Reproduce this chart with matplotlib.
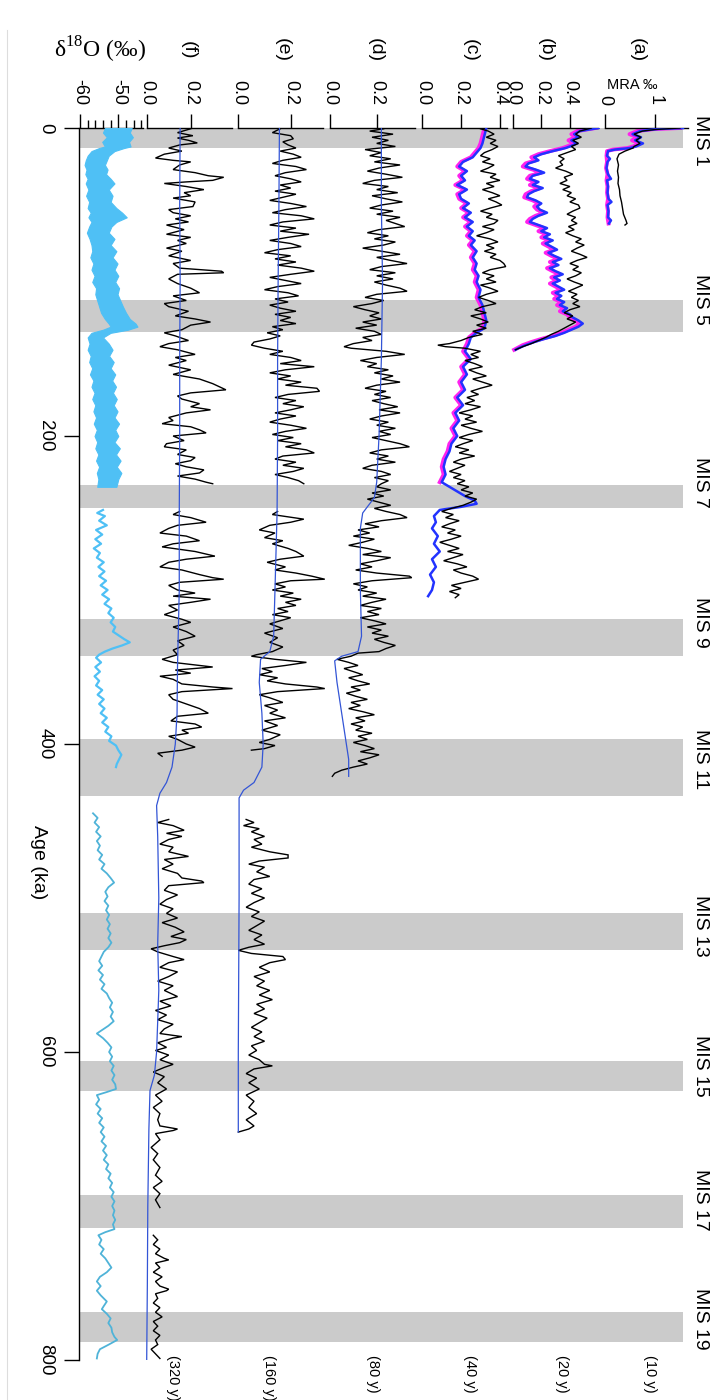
import numpy as np
import matplotlib
matplotlib.use("Agg")
import matplotlib.pyplot as plt
from matplotlib.lines import Line2D

plt.rcParams['font.family'] = ['Liberation Sans', 'DejaVu Sans']
plt.rcParams['mathtext.fontset'] = 'custom'
plt.rcParams['mathtext.rm'] = 'Liberation Serif'

W, H = 714, 1400

# ---------------- data (age in ka, value in panel units) ----------------
mis_names = ['MIS 1', 'MIS 5', 'MIS 7', 'MIS 9', 'MIS 11', 'MIS 13', 'MIS 15', 'MIS 17', 'MIS 19']
mis_start = [0, 112, 232, 319, 397, 510, 606, 693, 769]
mis_end = [13, 132.5, 247, 343, 434, 534, 625, 714, 788]
mis_label_age = [8, 111, 230, 321, 410, 518, 609, 696, 773]

age_ticks = [0, 200, 400, 600, 800]
res_labels = ['(320 y)', '(160 y)', '(80 y)', '(40 y)', '(20 y)', '(10 y)']

# (a) 10 y
a_blue = [(0, 1.56), (0.7, 1.04), (2, 0.70), (4, 0.55), (6, 0.72), (8, 0.60), (10, 0.76),
          (12, 0.62), (13, 0.50), (14, 0.20), (15, 0.06), (18, 0.04), (20, 0.10), (22, 0.05),
          (26, 0.03), (30, 0.06), (33, 0.12), (34, 0.04), (38, 0.06), (42, 0.05), (46, 0.07),
          (48, 0.13), (50, 0.05), (54, 0.07), (58, 0.06), (60, 0.12), (62, 0.08)]
a_magenta = [(0, 1.50), (0.7, 0.98), (2, 0.64), (4, 0.49), (6, 0.66), (8, 0.54), (10, 0.70),
             (12, 0.56), (13, 0.45), (14, 0.16), (15, 0.04), (18, 0.03), (22, 0.04), (26, 0.02),
             (30, 0.05), (34, 0.03), (38, 0.05), (42, 0.04), (46, 0.06), (50, 0.04), (54, 0.06),
             (58, 0.05), (62, 0.07)]
a_black = [(0, 1.50), (1, 1.0), (2, 0.75), (4, 0.58), (6, 0.72), (8, 0.62), (10, 0.70), (12, 0.58),
           (13, 0.56), (15, 0.40), (17, 0.28), (20, 0.24), (24, 0.27), (28, 0.25), (32, 0.27),
           (36, 0.26), (40, 0.29), (44, 0.30), (48, 0.33), (52, 0.35), (56, 0.37), (60, 0.42),
           (62, 0.44), (63, 0.40)]

# (b) 20 y
b_blue = [(0, 0.60), (2, 0.47), (4, 0.43), (6, 0.46), (8, 0.41), (10, 0.45), (12, 0.40), (13, 0.37),
          (15, 0.28), (17, 0.20), (19, 0.15), (21, 0.18), (23, 0.11), (25, 0.09), (27, 0.16),
          (29, 0.22), (31, 0.14), (33, 0.12), (35, 0.18), (37, 0.14), (39, 0.21), (41, 0.15),
          (43, 0.11), (45, 0.10), (47, 0.16), (49, 0.20), (51, 0.17), (53, 0.19), (55, 0.24),
          (57, 0.18), (59, 0.14), (61, 0.12), (63, 0.18), (65, 0.24), (67, 0.20), (69, 0.26),
          (71, 0.22), (73, 0.28), (75, 0.23), (77, 0.27), (79, 0.31), (81, 0.25), (83, 0.29),
          (85, 0.34), (87, 0.28), (89, 0.32), (91, 0.26), (93, 0.30), (95, 0.35), (97, 0.29),
          (99, 0.33), (101, 0.28), (103, 0.32), (105, 0.36), (107, 0.30), (109, 0.34), (111, 0.31),
          (113, 0.36), (115, 0.33), (117, 0.38), (119, 0.35), (121, 0.40), (123, 0.42), (125, 0.46),
          (127, 0.49), (129, 0.46), (131, 0.41), (133, 0.36), (135, 0.30), (137, 0.22), (139, 0.15),
          (141, 0.09), (143, 0.04), (144, 0.02)]
b_magenta = [(0, 0.58), (2, 0.45), (4, 0.41), (6, 0.44), (8, 0.39), (10, 0.43), (12, 0.38),
             (13, 0.35), (15, 0.26), (17, 0.18), (19, 0.13), (21, 0.16), (23, 0.09), (25, 0.07),
             (27, 0.14), (29, 0.20), (31, 0.12), (33, 0.10), (35, 0.16), (37, 0.12), (39, 0.19),
             (41, 0.13), (43, 0.09), (45, 0.08), (47, 0.14), (49, 0.18), (51, 0.15), (53, 0.17),
             (55, 0.22), (57, 0.16), (59, 0.12), (61, 0.10), (63, 0.16), (65, 0.22), (67, 0.18),
             (69, 0.24), (71, 0.20), (73, 0.26), (75, 0.21), (77, 0.25), (79, 0.29), (81, 0.23),
             (83, 0.27), (85, 0.32), (87, 0.26), (89, 0.30), (91, 0.24), (93, 0.28), (95, 0.33),
             (97, 0.27), (99, 0.31), (101, 0.26), (103, 0.30), (105, 0.34), (107, 0.28), (109, 0.32),
             (111, 0.29), (113, 0.34), (115, 0.31), (117, 0.36), (119, 0.33), (121, 0.38), (123, 0.40),
             (125, 0.44), (127, 0.47), (129, 0.44), (131, 0.39), (133, 0.34), (135, 0.28), (137, 0.20),
             (139, 0.13), (141, 0.07), (143, 0.03), (144, 0.01)]
b_black = [(0, 0.55), (2, 0.47), (4, 0.44), (6, 0.48), (8, 0.42), (10, 0.46), (12, 0.41), (14, 0.44),
           (16, 0.38), (18, 0.32), (20, 0.36), (22, 0.33), (24, 0.35), (26, 0.30), (28, 0.37),
           (30, 0.42), (32, 0.36), (34, 0.38), (36, 0.33), (38, 0.40), (40, 0.35), (42, 0.41),
           (44, 0.38), (46, 0.44), (48, 0.40), (50, 0.46), (52, 0.47), (54, 0.42), (56, 0.38),
           (58, 0.44), (60, 0.41), (62, 0.45), (64, 0.39), (66, 0.43), (68, 0.37), (70, 0.42),
           (72, 0.48), (74, 0.44), (76, 0.50), (78, 0.45), (80, 0.41), (82, 0.47), (84, 0.52),
           (86, 0.45), (88, 0.40), (90, 0.46), (92, 0.42), (94, 0.48), (96, 0.44), (98, 0.38),
           (100, 0.43), (102, 0.49), (104, 0.44), (106, 0.39), (108, 0.45), (110, 0.41), (112, 0.46),
           (114, 0.42), (116, 0.47), (118, 0.40), (120, 0.36), (122, 0.42), (124, 0.38), (126, 0.44),
           (128, 0.40), (130, 0.36), (132, 0.32), (134, 0.27), (136, 0.23), (138, 0.18), (140, 0.13),
           (142, 0.07), (144, 0.02)]

# (c) 40 y
c_blue = [(0, 0.33), (5, 0.32), (10, 0.31), (13, 0.30), (16, 0.28), (19, 0.26), (22, 0.21),
          (25, 0.19), (28, 0.23), (31, 0.20), (34, 0.22), (37, 0.18), (40, 0.23), (43, 0.19),
          (46, 0.20), (49, 0.24), (52, 0.21), (55, 0.25), (58, 0.22), (61, 0.26), (64, 0.23),
          (67, 0.26), (70, 0.24), (73, 0.27), (76, 0.25), (80, 0.28), (84, 0.26), (88, 0.28),
          (92, 0.27), (96, 0.29), (100, 0.28), (105, 0.30), (110, 0.29), (115, 0.31), (120, 0.32),
          (125, 0.33), (130, 0.32), (133, 0.28), (136, 0.25), (140, 0.24), (145, 0.22), (150, 0.25),
          (155, 0.21), (160, 0.23), (165, 0.20), (170, 0.22), (175, 0.18), (180, 0.21), (185, 0.17),
          (190, 0.19), (195, 0.16), (200, 0.18), (205, 0.15), (210, 0.14), (215, 0.12), (220, 0.11),
          (225, 0.12), (230, 0.10), (233, 0.14), (236, 0.18), (239, 0.22), (242, 0.27), (244, 0.28),
          (246, 0.20), (248, 0.09), (252, 0.06), (256, 0.07), (260, 0.05), (265, 0.08), (270, 0.06),
          (275, 0.09), (280, 0.05), (285, 0.07), (290, 0.04), (295, 0.06), (300, 0.05), (304, 0.03)]
c_magenta = [(0, 0.32), (5, 0.31), (10, 0.30), (13, 0.29), (16, 0.27), (19, 0.25), (22, 0.20),
             (25, 0.18), (28, 0.22), (31, 0.19), (34, 0.21), (37, 0.17), (40, 0.22), (43, 0.18),
             (46, 0.19), (49, 0.23), (52, 0.20), (55, 0.24), (58, 0.21), (61, 0.25), (64, 0.22),
             (67, 0.25), (70, 0.23), (73, 0.26), (76, 0.24), (80, 0.27), (84, 0.25), (88, 0.27),
             (92, 0.26), (96, 0.28), (100, 0.27), (105, 0.29), (110, 0.28), (115, 0.30), (120, 0.31),
             (125, 0.32), (130, 0.31), (133, 0.27), (136, 0.24), (140, 0.23), (145, 0.21), (150, 0.24),
             (155, 0.20), (160, 0.22), (165, 0.19), (170, 0.21), (175, 0.17), (180, 0.20), (185, 0.16),
             (190, 0.18), (195, 0.15), (200, 0.17), (205, 0.14), (210, 0.13), (215, 0.11), (220, 0.10),
             (225, 0.11), (230, 0.09)]
c_black = [(0.5, 0.30), (2, 0.34), (4, 0.37), (6, 0.33), (8, 0.38), (10, 0.35), (12, 0.39), (14, 0.36),
           (16, 0.32), (18, 0.30), (20, 0.35), (22, 0.31), (24, 0.37), (26, 0.34), (28, 0.30),
           (30, 0.38), (32, 0.35), (34, 0.40), (36, 0.33), (38, 0.37), (40, 0.31), (42, 0.36),
           (44, 0.40), (46, 0.34), (48, 0.38), (50, 0.41), (52, 0.35), (54, 0.30), (56, 0.36),
           (58, 0.33), (60, 0.39), (62, 0.37), (64, 0.31), (66, 0.37), (68, 0.33), (70, 0.28),
           (72, 0.35), (74, 0.39), (76, 0.33), (78, 0.37), (80, 0.32), (82, 0.38), (84, 0.35),
           (86, 0.40), (88, 0.42), (90, 0.43), (92, 0.35), (94, 0.31), (96, 0.37), (98, 0.33),
           (100, 0.38), (102, 0.30), (104, 0.35), (106, 0.39), (108, 0.33), (110, 0.29), (112, 0.34),
           (114, 0.38), (116, 0.31), (118, 0.27), (120, 0.33), (122, 0.25), (124, 0.30), (126, 0.34),
           (128, 0.28), (130, 0.33), (132, 0.26), (134, 0.31), (136, 0.24), (138, 0.20), (140, 0.14),
           (141, 0.08), (142, 0.12), (143, 0.22), (145, 0.30), (147, 0.25), (149, 0.29), (151, 0.22),
           (153, 0.27), (155, 0.31), (157, 0.24), (159, 0.28), (161, 0.33), (163, 0.26), (165, 0.31),
           (167, 0.36), (169, 0.30), (171, 0.25), (173, 0.29), (175, 0.23), (177, 0.27), (179, 0.22),
           (181, 0.30), (183, 0.25), (185, 0.19), (187, 0.26), (189, 0.22), (191, 0.28), (193, 0.20),
           (195, 0.25), (197, 0.31), (199, 0.24), (201, 0.19), (203, 0.26), (205, 0.21), (207, 0.17),
           (209, 0.24), (211, 0.19), (213, 0.27), (215, 0.20), (217, 0.16), (219, 0.22), (221, 0.18),
           (223, 0.14), (225, 0.20), (227, 0.16), (229, 0.22), (231, 0.18), (233, 0.24), (235, 0.20),
           (237, 0.26), (239, 0.22), (241, 0.28), (243, 0.25), (245, 0.21), (247, 0.15), (249, 0.10),
           (251, 0.16), (253, 0.12), (255, 0.19), (257, 0.14), (259, 0.10), (261, 0.17), (263, 0.13),
           (265, 0.20), (267, 0.15), (269, 0.09), (271, 0.14), (273, 0.19), (275, 0.13), (277, 0.21),
           (279, 0.16), (281, 0.11), (283, 0.18), (285, 0.23), (287, 0.16), (289, 0.20), (291, 0.26),
           (293, 0.29), (295, 0.22), (297, 0.15), (299, 0.20), (301, 0.14), (303, 0.19), (305, 0.17)]

# (d) 80 y
d_blue = [(0, 0.22), (50, 0.22), (100, 0.225), (150, 0.22), (200, 0.21), (230, 0.20), (240, 0.19),
          (250, 0.14), (260, 0.13), (300, 0.13), (330, 0.135), (340, 0.12), (343, 0.05), (346, 0.02),
          (360, 0.03), (380, 0.05), (400, 0.07), (410, 0.08), (421, 0.08)]
d_black = [(0.5, 0.23), (2, 0.17), (4, 0.27), (6, 0.18), (8, 0.25), (10, 0.20), (12, 0.28), (14, 0.15),
           (16, 0.22), (18, 0.17), (20, 0.26), (22, 0.19), (24, 0.30), (26, 0.21), (28, 0.16),
           (30, 0.24), (32, 0.31), (34, 0.19), (36, 0.14), (38, 0.25), (40, 0.20), (42, 0.29),
           (44, 0.18), (46, 0.24), (48, 0.31), (50, 0.22), (52, 0.17), (54, 0.27), (56, 0.20),
           (58, 0.30), (60, 0.24), (62, 0.28), (64, 0.32), (66, 0.21), (68, 0.16), (70, 0.25),
           (72, 0.19), (74, 0.28), (76, 0.23), (78, 0.14), (80, 0.22), (82, 0.30), (84, 0.20),
           (86, 0.26), (88, 0.33), (90, 0.22), (92, 0.17), (94, 0.28), (96, 0.20), (98, 0.27),
           (100, 0.19), (102, 0.24), (104, 0.30), (106, 0.33), (108, 0.20), (110, 0.15), (112, 0.23),
           (114, 0.18), (116, 0.10), (118, 0.15), (120, 0.21), (122, 0.17), (124, 0.22), (126, 0.14),
           (128, 0.20), (130, 0.11), (132, 0.19), (134, 0.22), (136, 0.14), (138, 0.18), (140, 0.10),
           (142, 0.06), (143, 0.09), (145, 0.24), (147, 0.32), (149, 0.20), (151, 0.13), (153, 0.20),
           (155, 0.16), (157, 0.25), (159, 0.19), (161, 0.27), (163, 0.22), (165, 0.30), (167, 0.20),
           (169, 0.15), (171, 0.24), (173, 0.19), (175, 0.26), (177, 0.18), (179, 0.23), (181, 0.29),
           (183, 0.21), (185, 0.30), (187, 0.22), (189, 0.17), (191, 0.25), (193, 0.20), (195, 0.28),
           (197, 0.21), (199, 0.26), (201, 0.18), (203, 0.24), (205, 0.30), (207, 0.34), (209, 0.22),
           (211, 0.17), (213, 0.25), (215, 0.20), (217, 0.28), (219, 0.18), (221, 0.14), (223, 0.22),
           (225, 0.26), (227, 0.19), (229, 0.25), (231, 0.22), (233, 0.20), (235, 0.26), (237, 0.18),
           (239, 0.23), (241, 0.16), (243, 0.21), (245, 0.26), (247, 0.19), (249, 0.24), (251, 0.30),
           (253, 0.33), (255, 0.22), (257, 0.15), (259, 0.21), (261, 0.12), (263, 0.17), (265, 0.10),
           (267, 0.19), (269, 0.14), (271, 0.08), (273, 0.16), (275, 0.22), (277, 0.14), (279, 0.26),
           (281, 0.20), (283, 0.13), (285, 0.18), (287, 0.11), (289, 0.20), (291, 0.34), (292, 0.35),
           (294, 0.18), (296, 0.10), (298, 0.16), (300, 0.12), (302, 0.20), (304, 0.14), (306, 0.24),
           (308, 0.18), (310, 0.13), (312, 0.22), (314, 0.16), (316, 0.21), (318, 0.13), (320, 0.19),
           (322, 0.24), (324, 0.16), (326, 0.22), (328, 0.18), (330, 0.25), (332, 0.19), (334, 0.23),
           (336, 0.28), (338, 0.24), (340, 0.21), (341, 0.12), (343, 0.09), (345, 0.03), (347, 0.08),
           (349, 0.12), (351, 0.06), (353, 0.10), (355, 0.14), (357, 0.08), (359, 0.12), (361, 0.17),
           (363, 0.09), (365, 0.13), (367, 0.07), (369, 0.11), (371, 0.16), (373, 0.09), (375, 0.13),
           (377, 0.08), (379, 0.14), (381, 0.19), (383, 0.11), (385, 0.15), (387, 0.09), (389, 0.14),
           (391, 0.11), (393, 0.18), (395, 0.12), (397, 0.16), (399, 0.10), (401, 0.15), (403, 0.19),
           (405, 0.13), (407, 0.21), (409, 0.17), (411, 0.12), (413, 0.16), (415, 0.10), (417, 0.05),
           (419, 0.02), (421, 0.01)]

# (e) 160 y
e_blue = [(0, 0.157), (50, 0.155), (100, 0.152), (150, 0.150), (200, 0.150), (250, 0.148),
          (300, 0.140), (330, 0.135), (340, 0.12), (345, 0.085), (360, 0.08), (380, 0.09),
          (400, 0.095), (415, 0.09), (425, 0.06), (430, 0.02), (435, 0.003), (500, 0.003),
          (600, 0.0), (652, 0.0)]
e_black_1 = [(0.5, 0.16), (3, 0.13), (5, 0.20), (7, 0.21), (9, 0.17), (11, 0.19), (13, 0.22), (15, 0.16),
             (17, 0.21), (19, 0.24), (21, 0.17), (23, 0.13), (25, 0.22), (27, 0.26), (29, 0.18),
             (31, 0.14), (33, 0.20), (35, 0.24), (37, 0.16), (39, 0.20), (41, 0.14), (43, 0.22),
             (45, 0.17), (47, 0.12), (49, 0.20), (51, 0.26), (53, 0.18), (55, 0.13), (57, 0.24),
             (59, 0.29), (61, 0.17), (63, 0.12), (65, 0.22), (67, 0.16), (69, 0.27), (71, 0.19),
             (73, 0.12), (75, 0.20), (77, 0.24), (79, 0.15), (81, 0.10), (83, 0.20), (85, 0.14),
             (87, 0.22), (89, 0.15), (91, 0.24), (93, 0.29), (95, 0.20), (97, 0.12), (99, 0.18),
             (101, 0.24), (103, 0.15), (105, 0.10), (107, 0.19), (109, 0.23), (111, 0.14), (113, 0.19),
             (115, 0.12), (117, 0.16), (119, 0.22), (121, 0.14), (123, 0.20), (125, 0.16), (127, 0.22),
             (129, 0.13), (131, 0.17), (133, 0.11), (135, 0.16), (137, 0.12), (139, 0.06), (141, 0.05),
             (143, 0.10), (145, 0.17), (147, 0.12), (149, 0.20), (151, 0.24), (153, 0.16), (155, 0.29),
             (157, 0.18), (159, 0.12), (161, 0.20), (163, 0.15), (165, 0.24), (167, 0.18), (169, 0.30),
             (171, 0.31), (173, 0.19), (175, 0.14), (177, 0.22), (179, 0.17), (181, 0.25), (183, 0.20),
             (185, 0.14), (187, 0.22), (189, 0.16), (191, 0.12), (193, 0.20), (195, 0.26), (197, 0.18),
             (199, 0.13), (201, 0.21), (203, 0.15), (205, 0.24), (207, 0.18), (209, 0.26), (211, 0.29),
             (213, 0.17), (215, 0.14), (217, 0.22), (219, 0.17), (221, 0.25), (223, 0.21), (225, 0.14),
             (227, 0.19), (229, 0.23), (231, 0.25)]
e_black_2 = [(249, 0.15), (251, 0.13), (254, 0.25), (256, 0.20), (258, 0.12), (261, 0.08), (263, 0.14),
             (266, 0.10), (268, 0.17), (270, 0.13), (273, 0.19), (275, 0.22), (278, 0.25), (280, 0.16),
             (282, 0.11), (285, 0.18), (287, 0.14), (289, 0.22), (291, 0.28), (293, 0.33), (294, 0.20),
             (296, 0.14), (298, 0.18), (300, 0.13), (302, 0.21), (304, 0.16), (306, 0.24), (308, 0.18),
             (310, 0.22), (312, 0.15), (314, 0.19), (316, 0.13), (318, 0.20), (320, 0.16), (322, 0.12),
             (325, 0.17), (328, 0.10), (331, 0.15), (334, 0.12), (337, 0.17), (340, 0.13), (342, 0.07),
             (343, 0.05), (345, 0.14), (347, 0.26), (349, 0.18), (351, 0.09), (353, 0.13), (355, 0.08),
             (357, 0.15), (359, 0.11), (361, 0.18), (363, 0.30), (364, 0.33), (366, 0.15), (368, 0.08),
             (370, 0.12), (373, 0.17), (375, 0.10), (378, 0.15), (380, 0.12), (383, 0.18), (385, 0.10),
             (388, 0.15), (391, 0.09), (394, 0.16), (397, 0.12), (399, 0.08), (401, 0.14), (403, 0.10),
             (404, 0.05)]
e_black_3 = [(449, 0.03), (451, 0.06), (453, 0.02), (455, 0.08), (457, 0.05), (460, 0.10), (462, 0.06),
             (465, 0.09), (467, 0.05), (470, 0.12), (472, 0.19), (474, 0.19), (476, 0.08), (478, 0.04),
             (480, 0.10), (483, 0.07), (486, 0.12), (488, 0.06), (491, 0.04), (494, 0.09), (497, 0.05),
             (500, 0.10), (503, 0.06), (506, 0.03), (509, 0.08), (512, 0.05), (515, 0.10), (518, 0.07),
             (521, 0.04), (524, 0.09), (527, 0.06), (530, 0.10), (532, 0.04), (534, 0.0), (536, 0.05),
             (538, 0.17), (540, 0.18), (542, 0.12), (545, 0.08), (548, 0.12), (551, 0.06), (554, 0.10),
             (557, 0.07), (560, 0.12), (563, 0.08), (566, 0.13), (569, 0.07), (572, 0.10), (575, 0.06),
             (578, 0.11), (581, 0.08), (584, 0.05), (587, 0.09), (590, 0.06), (593, 0.10), (596, 0.05),
             (599, 0.07), (602, 0.04), (605, 0.08), (608, 0.10), (609, 0.13), (611, 0.06), (614, 0.03),
             (617, 0.07), (620, 0.04), (624, 0.08), (628, 0.03), (632, 0.06), (636, 0.04), (640, 0.07),
             (644, 0.03), (648, 0.06), (650, 0.04), (652, 0.0)]

# (f) 320 y
f_blue = [(0, 0.152), (50, 0.150), (100, 0.152), (150, 0.150), (200, 0.150), (250, 0.148), (300, 0.148),
          (350, 0.140), (380, 0.138), (400, 0.130), (415, 0.115), (425, 0.09), (432, 0.06), (440, 0.045),
          (460, 0.05), (500, 0.055), (530, 0.05), (560, 0.055), (600, 0.045), (615, 0.035), (625, 0.015),
          (650, 0.01), (700, 0.005), (750, 0.003), (800, 0.0)]
f_black_1 = [(0.5, 0.20), (3, 0.14), (5, 0.21), (6.5, 0.14), (8, 0.19), (9.7, 0.23), (11, 0.15), (13, 0.10),
             (15, 0.16), (17, 0.08), (19.5, 0.04), (21, 0.12), (22, 0.20), (24, 0.15), (27, 0.12),
             (29, 0.22), (31, 0.28), (32, 0.35), (34, 0.30), (35, 0.18), (36, 0.08), (38, 0.18),
             (40, 0.26), (42, 0.17), (44, 0.20), (45.5, 0.12), (48, 0.22), (51, 0.21), (53, 0.10),
             (55, 0.12), (57, 0.20), (59, 0.13), (61, 0.19), (63, 0.09), (66, 0.17), (69, 0.09),
             (71, 0.20), (73, 0.14), (75, 0.18), (78, 0.09), (80, 0.16), (83, 0.10), (86, 0.20),
             (88, 0.12), (91, 0.15), (93, 0.34), (94, 0.35), (95, 0.14), (98, 0.10), (101, 0.14),
             (104, 0.20), (107, 0.24), (109, 0.12), (112, 0.18), (114, 0.08), (116, 0.10), (119, 0.19),
             (122, 0.13), (124, 0.22), (126, 0.29), (128, 0.20), (131, 0.16), (133, 0.08), (135, 0.13),
             (138, 0.19), (140, 0.10), (142, 0.06), (144, 0.14), (147, 0.22), (149, 0.13), (151, 0.18),
             (154, 0.10), (157, 0.20), (160, 0.12), (163, 0.24), (166, 0.30), (168, 0.33), (170, 0.36),
             (172, 0.20), (174, 0.14), (176, 0.16), (179, 0.24), (181, 0.20), (183, 0.29), (185, 0.18),
             (188, 0.10), (190, 0.12), (192, 0.07), (194, 0.20), (196, 0.24), (198, 0.27), (200, 0.12),
             (203, 0.17), (205, 0.09), (207, 0.08), (209, 0.18), (212, 0.14), (214, 0.22), (216, 0.20),
             (218, 0.13), (220, 0.18), (222, 0.26), (224, 0.24), (226, 0.14), (228, 0.22), (230, 0.27),
             (231, 0.30)]
f_black_2 = [(249, 0.15), (251, 0.12), (253, 0.20), (256, 0.27), (258, 0.14), (260, 0.10), (263, 0.06),
             (265, 0.18), (268, 0.24), (270, 0.12), (272, 0.07), (275, 0.22), (278, 0.31), (280, 0.18),
             (282, 0.10), (285, 0.06), (287, 0.16), (290, 0.24), (292, 0.30), (293, 0.35), (295, 0.15),
             (297, 0.10), (300, 0.14), (302, 0.22), (304, 0.12), (306, 0.29), (308, 0.20), (310, 0.10),
             (313, 0.14), (316, 0.08), (319, 0.16), (321, 0.20), (324, 0.12), (327, 0.18), (330, 0.22),
             (333, 0.14), (336, 0.17), (339, 0.12), (342, 0.14), (345, 0.07), (347, 0.12), (350, 0.30),
             (352, 0.13), (354, 0.20), (356, 0.06), (358, 0.12), (361, 0.16), (363, 0.30), (364, 0.39),
             (366, 0.16), (368, 0.10), (371, 0.12), (374, 0.18), (377, 0.24), (380, 0.28), (382, 0.14),
             (385, 0.11), (387, 0.22), (389, 0.25), (391, 0.16), (393, 0.19), (395, 0.10), (397, 0.14),
             (400, 0.18), (402, 0.22), (404, 0.16), (406, 0.05), (408, 0.07)]
f_black_3 = [(449, 0.10), (451, 0.05), (453, 0.12), (456, 0.17), (458, 0.09), (460, 0.16), (462, 0.10),
             (465, 0.06), (467, 0.12), (470, 0.10), (473, 0.19), (475, 0.08), (478, 0.12), (481, 0.07),
             (484, 0.14), (487, 0.16), (489, 0.25), (490, 0.26), (492, 0.10), (495, 0.08), (498, 0.14),
             (501, 0.09), (504, 0.06), (507, 0.12), (510, 0.09), (513, 0.14), (516, 0.07), (519, 0.13),
             (522, 0.17), (525, 0.11), (527, 0.18), (529, 0.15), (531, 0.08), (533, 0.02), (535, 0.05),
             (538, 0.12), (540, 0.17), (542, 0.10), (545, 0.06), (548, 0.14), (551, 0.10), (554, 0.05),
             (557, 0.12), (560, 0.08), (564, 0.14), (567, 0.06), (570, 0.11), (573, 0.04), (576, 0.09),
             (579, 0.05), (582, 0.12), (585, 0.08), (588, 0.06), (590, 0.16), (591, 0.12), (594, 0.05),
             (597, 0.09), (599, 0.04), (602, 0.10), (605, 0.06), (608, 0.12), (610, 0.08), (613, 0.03),
             (616, 0.08), (620, 0.05), (624, 0.09), (628, 0.04), (632, 0.07), (636, 0.03), (640, 0.06),
             (644, 0.05), (648, 0.06), (650, 0.14), (651, 0.12), (653, 0.04), (657, 0.06), (662, 0.02),
             (666, 0.05), (670, 0.03), (675, 0.06), (680, 0.04), (684, 0.07), (688, 0.03), (692, 0.06),
             (696, 0.04), (701, 0.06)]
f_black_4 = [(719, 0.03), (722, 0.05), (725, 0.03), (728, 0.06), (731, 0.04), (734, 0.08), (735, 0.10),
             (737, 0.04), (740, 0.06), (743, 0.03), (746, 0.07), (749, 0.04), (752, 0.06), (754, 0.10),
             (755, 0.09), (757, 0.04), (760, 0.05), (763, 0.03), (766, 0.06), (769, 0.04), (772, 0.07),
             (775, 0.03), (778, 0.05), (781, 0.03), (784, 0.06), (787, 0.04), (790, 0.05), (793, 0.02),
             (796, 0.04), (799, 0.06)]

# delta 18O: dense envelope (0-233 ka), then single line segments
d18o_band_age = [0, 3, 6, 9, 12, 13, 15, 18, 21, 24, 27, 30, 33, 36, 40, 44, 48, 52, 55, 58, 61, 64,
                 68, 72, 76, 80, 84, 88, 92, 96, 100, 104, 108, 112, 116, 120, 124, 127, 129, 131,
                 133, 136, 140, 144, 148, 152, 156, 160, 164, 168, 172, 176, 180, 184, 188, 192,
                 196, 200, 204, 208, 212, 216, 220, 224, 228, 233]
d18o_band_low = [-53.5, -54.0, -53.0, -54.2, -53.5, -55.0, -57.0, -58.0, -58.5, -58.8, -58.3, -58.6,
                 -58.0, -58.5, -57.8, -58.4, -57.6, -58.0, -57.2, -57.8, -57.0, -57.6, -58.2, -57.5,
                 -57.0, -56.8, -57.3, -56.5, -57.0, -56.2, -56.8, -55.8, -56.0, -55.5, -55.0, -54.5,
                 -53.5, -52.5, -52.0, -54.0, -57.0, -58.0, -57.5, -58.0, -57.2, -57.6, -56.8, -57.4,
                 -56.5, -57.0, -56.2, -56.8, -56.0, -56.5, -55.8, -56.4, -55.6, -56.2, -55.5, -56.0,
                 -55.2, -55.8, -55.0, -55.6, -55.2, -55.5]
d18o_band_high = [-46.5, -47.0, -46.2, -47.2, -46.8, -48.5, -51.0, -52.5, -53.0, -53.5, -52.8, -53.2,
                  -52.0, -51.0, -52.5, -51.5, -52.0, -50.5, -49.0, -47.8, -50.5, -51.8, -52.5, -51.0,
                  -52.0, -50.5, -51.5, -50.2, -51.0, -50.0, -50.8, -49.8, -50.2, -49.5, -48.8, -48.0,
                  -47.0, -45.5, -45.0, -47.5, -52.0, -54.0, -52.5, -51.5, -52.4, -51.2, -52.0, -50.8,
                  -51.6, -50.6, -51.4, -50.4, -51.2, -50.2, -51.0, -49.8, -50.8, -50.0, -51.0, -49.6,
                  -50.6, -49.4, -50.4, -49.2, -50.0, -50.5]
d18o_line_2 = [(248, -54.0), (250, -55.5), (252, -53.5), (255, -55.0), (258, -53.0), (261, -55.8),
               (264, -54.2), (267, -56.0), (270, -54.5), (273, -56.4), (276, -54.8), (279, -55.6),
               (282, -53.8), (285, -55.2), (288, -53.6), (291, -55.0), (294, -53.2), (297, -54.6),
               (300, -52.8), (303, -54.2), (306, -52.4), (309, -53.6), (312, -51.8), (315, -52.6),
               (318, -51.2), (321, -52.0), (324, -50.8), (327, -51.4), (330, -49.6), (332, -48.4),
               (334, -47.0), (336, -49.0), (338, -51.5), (340, -53.5), (342, -55.0), (344, -55.8),
               (347, -54.5), (350, -56.0), (353, -54.8), (356, -56.2), (359, -55.0), (362, -55.8),
               (365, -54.2), (368, -55.4), (371, -53.8), (374, -55.0), (377, -53.6), (380, -54.6),
               (383, -53.0), (386, -54.2), (389, -52.6), (392, -53.4), (395, -51.8), (398, -52.4),
               (401, -50.6), (404, -50.0), (407, -49.2), (410, -49.8), (413, -50.4), (415, -50.6)]
d18o_line_3 = [(445, -56.6), (448, -55.4), (451, -56.2), (454, -55.0), (457, -55.8), (460, -54.6),
               (463, -55.6), (466, -54.8), (469, -55.4), (472, -54.2), (475, -55.0), (478, -53.6),
               (481, -54.4), (484, -53.0), (487, -52.0), (490, -51.1), (493, -52.6), (496, -53.4),
               (499, -52.8), (502, -53.6), (505, -52.6), (508, -53.2), (511, -52.4), (514, -53.0),
               (517, -52.2), (520, -52.8), (523, -52.0), (526, -52.6), (529, -51.8), (532, -52.6),
               (535, -53.8), (538, -54.4), (541, -55.0), (544, -54.2), (547, -55.2), (550, -54.0),
               (553, -54.8), (556, -53.6), (559, -54.4), (562, -53.0), (565, -52.4), (568, -51.6),
               (571, -52.2), (574, -51.4), (577, -52.0), (580, -51.2), (583, -52.6), (586, -54.4),
               (588, -55.6), (591, -54.0), (594, -52.8), (597, -51.8), (600, -52.4), (603, -51.6),
               (606, -52.2), (609, -51.2), (612, -51.8), (615, -51.0), (618, -51.6), (621, -50.8),
               (624, -50.6), (626, -53.0), (628, -55.6), (631, -55.0), (634, -55.8), (637, -54.6),
               (640, -55.4), (643, -54.2), (646, -55.0), (649, -53.8), (652, -54.6), (655, -53.6),
               (658, -54.4), (661, -53.2), (664, -54.0), (667, -53.0), (670, -53.8), (673, -52.6),
               (676, -53.2), (679, -52.0), (682, -52.6), (685, -51.6), (688, -52.2), (691, -51.2),
               (694, -51.8), (697, -51.0), (700, -51.6), (703, -51.0), (706, -51.4), (709, -50.8),
               (712, -51.4), (715, -51.0), (717, -53.4), (719, -55.2), (722, -54.4), (725, -55.0),
               (728, -53.8), (731, -54.6), (734, -53.4), (737, -52.6), (740, -51.8), (743, -53.0),
               (746, -54.8), (749, -55.6), (752, -54.6), (755, -55.6), (758, -54.6), (762, -53.0),
               (765, -53.8), (767, -54.3), (770, -53.0), (773, -52.0), (776, -52.6), (779, -51.8),
               (782, -51.6), (785, -51.0), (787, -50.3), (790, -52.5), (793, -54.8), (796, -55.4),
               (799, -55.6)]

# ---------------- layout (pixel positions in the 714x1400 picture) ----------------
PX_LEFT, PX_RIGHT, PX_TOP, PX_BOTTOM = 79, 690, 128, 1360
BAND_RIGHT = 683

# name: (reference value, pixel of reference value, pixels per unit, axis span, ticks, labels)
panels = {
    'd18o': (-60, 80.0, 3.83, (-60, -43.5), [-60, -50], ['-60', '-50']),
    'f': (0, 146.7, 220.0, (0, 0.388), [0, 0.2], ['0.0', '0.2']),
    'e': (0, 238.3, 262.0, (0, 0.323), [0, 0.2], ['0.0', '0.2']),
    'd': (0, 330.0, 233.5, (0, 0.364), [0, 0.2], ['0.0', '0.2']),
    'c': (0, 422.3, 194.0, (0, 0.436), [0, 0.2, 0.4], ['0.0', '0.2', '0.4']),
    'b': (0, 512.7, 143.0, (0, 0.597), [0, 0.2, 0.4], ['0.0', '0.2', '0.4']),
    'a': (0, 605.0, 50.0, (0, 1.66), [0, 1], ['0', '1']),
}


def fx(px):
    return px / W


def fy(py):
    return 1 - py / H


fig = plt.figure(figsize=(W / 100, H / 100), dpi=100)
rect = [fx(PX_LEFT), fy(PX_BOTTOM), (PX_RIGHT - PX_LEFT) / W, (PX_BOTTOM - PX_TOP) / H]

# base axes: age axis and MIS bands
base = fig.add_axes(rect)
base.set_xlim(0, 1)
base.set_ylim(800, 0)
base.set_facecolor('none')
for s in ['top', 'right', 'bottom']:
    base.spines[s].set_visible(False)
base.spines['left'].set_linewidth(1.0)
base.spines['left'].set_bounds(0, 800)
base.set_xticks([])
base.set_yticks(age_ticks, [str(t) for t in age_ticks])
base.tick_params(axis='y', length=11, width=1.0, pad=7, labelsize=13.5, labelrotation=-90)
for lbl in base.get_yticklabels():
    lbl.set_va('center')
    lbl.set_ha('right')
band_xmax = (BAND_RIGHT - PX_LEFT) / (PX_RIGHT - PX_LEFT)
for s0, s1 in zip(mis_start, mis_end):
    base.axhspan(s0, s1, xmin=0, xmax=band_xmax, color='#cbcbcb', lw=0, zorder=0)

axes = {}
for name, (ref, refpx, scale, span, ticks, labels) in panels.items():
    ax = fig.add_axes(rect)
    ax.set_facecolor('none')
    ax.set_xlim(ref + (PX_LEFT - refpx) / scale, ref + (PX_RIGHT - refpx) / scale)
    ax.set_ylim(800, 0)
    for s in ['left', 'right', 'bottom']:
        ax.spines[s].set_visible(False)
    ax.spines['top'].set_linewidth(1.0)
    ax.spines['top'].set_bounds(*span)
    ax.set_yticks([])
    ax.xaxis.set_ticks_position('top')
    ax.set_xticks(ticks, labels)
    ax.tick_params(axis='x', length=10, width=1.0, pad=6.5, labelsize=13, labelrotation=-90)
    axes[name] = ax

axes['d18o'].set_xticks([-58, -56, -54, -52, -48, -46, -44], minor=True)
axes['d18o'].tick_params(axis='x', which='minor', length=5.5, width=1.0)


def draw(ax, pts, **kw):
    arr = np.array(pts)
    ax.plot(arr[:, 1], arr[:, 0], **kw)


BLACK = dict(color='black', lw=1.0, solid_joinstyle='miter', zorder=4)
THIN_BLUE = dict(color='#3355d6', lw=0.9, zorder=5)
MAG = dict(color='#ff22ee', lw=2.8, zorder=2)
BLUE = dict(color='#2233ff', lw=1.8, zorder=3)

# (a), (b), (c)
for key, mag, blue, black in [('a', a_magenta, a_blue, a_black),
                              ('b', b_magenta, b_blue, b_black),
                              ('c', c_magenta, c_blue, c_black)]:
    draw(axes[key], mag, **MAG)
    draw(axes[key], blue, **BLUE)
    draw(axes[key], black, **BLACK)

# (d), (e), (f)
draw(axes['d'], d_black, **BLACK)
draw(axes['d'], d_blue, **THIN_BLUE)
for seg in [e_black_1, e_black_2, e_black_3]:
    draw(axes['e'], seg, **BLACK)
draw(axes['e'], e_blue, **THIN_BLUE)
for seg in [f_black_1, f_black_2, f_black_3, f_black_4]:
    draw(axes['f'], seg, **BLACK)
draw(axes['f'], f_blue, **THIN_BLUE)

# delta 18O
ax_o = axes['d18o']
ax_o.fill_betweenx(d18o_band_age, d18o_band_low, d18o_band_high, color='#4fc0f5', lw=0.8,
                   edgecolor='#4fc0f5', zorder=3)
draw(ax_o, d18o_line_2, color='#4fc0f5', lw=1.6, zorder=3)
draw(ax_o, d18o_line_3, color='#4fb3d8', lw=1.3, zorder=3)

# ---------------- texts ----------------
panel_letters = ['(f)', '(e)', '(d)', '(c)', '(b)', '(a)']
letter_x = [188, 282, 375, 470, 545, 637]
for t, x in zip(panel_letters, letter_x):
    fig.text(fx(x), fy(50), t, rotation=-90, ha='center', va='center', fontsize=14)

fig.text(fx(100), fy(50), r'δ$^{18}$O (‰)', family='Liberation Serif', fontsize=17,
         ha='center', va='center')
fig.text(fx(632), fy(85), 'MRA ‰', fontsize=10.5, ha='center', va='center')

res_x = [173, 269, 373, 470, 562, 650]
for t, x in zip(res_labels, res_x):
    fig.text(fx(x), fy(1355), t, rotation=-90, ha='center', va='top', fontsize=10.5)

for t, a in zip(mis_names, mis_label_age):
    py = PX_TOP + a * (PX_BOTTOM - PX_TOP) / 800
    fig.text(fx(700), fy(py), t, rotation=-90, ha='center', va='center', fontsize=14)

fig.text(fx(38), fy(862), 'Age (ka)', rotation=-90, ha='center', va='center', fontsize=14)

fig.add_artist(Line2D([fx(6.5), fx(6.5)], [fy(30), 0], color='#dddddd', lw=0.8))

fig.savefig('out.png', dpi=100)
